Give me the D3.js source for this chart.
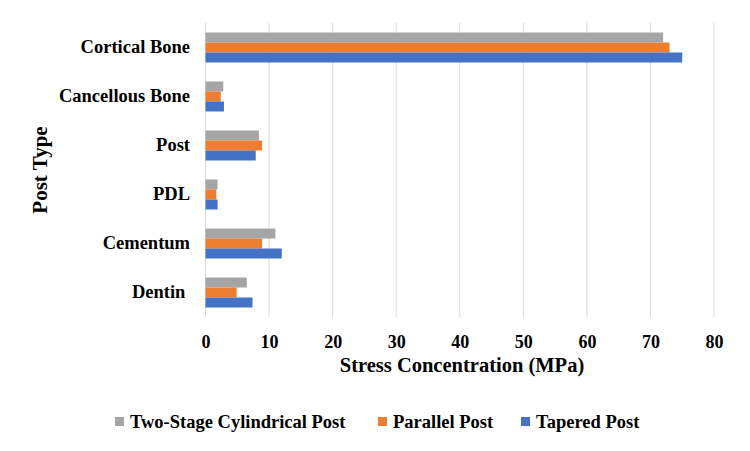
<!DOCTYPE html>
<html lang="en">
<head>
  <meta charset="UTF-8">
  <title>Stress Concentration by Post Type</title>
  <style>
    body { margin: 0; background: #fff; }
    svg text { font-family: "Liberation Serif", "Times New Roman", serif; font-weight: bold; fill: #000; }
  </style>
</head>
<body>
  <svg width="750" height="451"></svg>

  <script src="https://d3js.org/d3.v7.min.js"></script>
  <script>
  // data, top to bottom
  var categories = ["Cortical Bone", "Cancellous Bone", "Post", "PDL", "Cementum", "Dentin "];
  var seriesNames = ["Two-Stage Cylindrical Post", "Parallel Post", "Tapered Post"];
  var twoStage = [72, 2.8, 8.4, 1.9, 11.0, 6.5];
  var parallel = [73, 2.4, 8.9, 1.7, 8.9, 4.9];
  var tapered  = [75, 2.9, 7.9, 1.9, 12.0, 7.4];
  var xTicks = [0, 10, 20, 30, 40, 50, 60, 70, 80];
  var colors = ["#a5a5a5", "#ed7d31", "#4472c4"];

  var seriesValues = [twoStage, parallel, tapered];

  var svg = d3.select("svg");

  var x = d3.scaleLinear().domain([0, 80]).range([205.5, 714]);
  var y = d3.scaleBand().domain(categories).range([23, 317])
    .paddingInner(0.388).paddingOuter(0.194);
  var ySub = d3.scaleBand().domain(seriesNames).range([0, y.bandwidth()]);
  var color = d3.scaleOrdinal().domain(seriesNames).range(colors);

  // gridlines
  svg.append("g")
    .selectAll("line")
    .data(xTicks)
    .enter()
    .append("line")
    .attr("x1", function(d) { return x(d); })
    .attr("x2", function(d) { return x(d); })
    .attr("y1", 23)
    .attr("y2", 317)
    .attr("stroke", "#d9d9d9")
    .attr("stroke-width", 1);

  // bars
  var groups = svg.append("g")
    .selectAll("g")
    .data(categories)
    .enter()
    .append("g")
    .attr("transform", function(d) { return "translate(0," + y(d) + ")"; });

  groups.selectAll("rect")
    .data(function(d, i) {
      return seriesNames.map(function(s, j) { return { name: s, value: seriesValues[j][i] }; });
    })
    .enter()
    .append("rect")
    .attr("x", x(0))
    .attr("y", function(d) { return ySub(d.name); })
    .attr("width", function(d) { return x(d.value) - x(0); })
    .attr("height", ySub.bandwidth())
    .attr("fill", function(d) { return color(d.name); });

  // x axis labels
  var xAxis = svg.append("g")
    .attr("transform", "translate(0,335)")
    .call(d3.axisBottom(x).tickValues(xTicks).tickSize(0).tickPadding(0));
  xAxis.select(".domain").remove();
  xAxis.selectAll("text")
    .attr("font-size", "18px")
    .attr("dy", "0.71em");

  // y axis labels
  var yAxis = svg.append("g")
    .attr("transform", "translate(190,0)")
    .call(d3.axisLeft(y).tickSize(0).tickPadding(0));
  yAxis.select(".domain").remove();
  yAxis.selectAll("text")
    .attr("font-size", "18.5px")
    .style("white-space", "pre");

  // axis titles
  svg.append("text")
    .attr("x", 462)
    .attr("y", 372)
    .attr("text-anchor", "middle")
    .attr("font-size", "20.5px")
    .text("Stress Concentration (MPa)");

  svg.append("text")
    .attr("transform", "translate(47,170) rotate(-90)")
    .attr("text-anchor", "middle")
    .attr("font-size", "21px")
    .text("Post Type");

  // legend
  var legendX = [115, 378, 521];
  var legend = svg.append("g")
    .selectAll("g")
    .data(seriesNames)
    .enter()
    .append("g")
    .attr("transform", function(d, i) { return "translate(" + legendX[i] + ",422)"; });

  legend.append("rect")
    .attr("x", 0)
    .attr("y", -5)
    .attr("width", 9)
    .attr("height", 9)
    .attr("fill", function(d) { return color(d); });

  legend.append("text")
    .attr("x", 15)
    .attr("y", 0)
    .attr("dy", "0.35em")
    .attr("font-size", "18.5px")
    .text(function(d) { return d; });
  </script>
</body>
</html>
